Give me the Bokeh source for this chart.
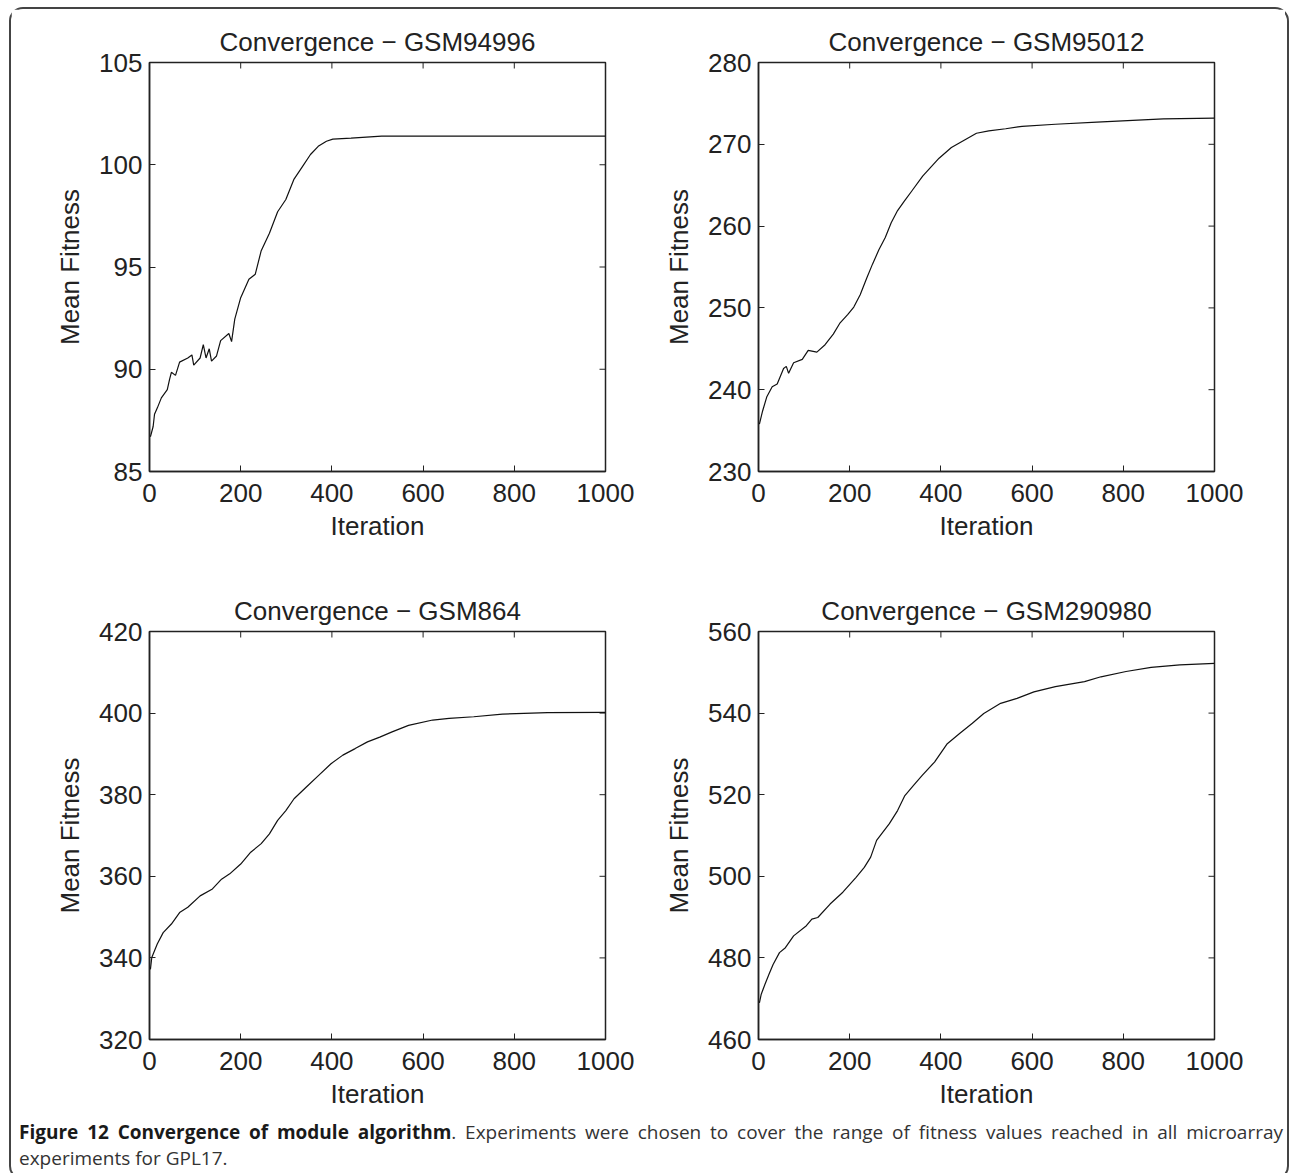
import math
from bokeh.plotting import figure
from bokeh.layouts import column, row
from bokeh.models import Range1d, FixedTicker, Div
from bokeh.embed import file_html
from bokeh.resources import INLINE

# ---------------- data ----------------
x_tick_values = [0, 200, 400, 600, 800, 1000]

titles = ["Convergence \u2212 GSM94996", "Convergence \u2212 GSM95012",
          "Convergence \u2212 GSM864", "Convergence \u2212 GSM290980"]

iter_gsm94996 = [2, 8, 11, 17, 26, 39, 44, 48, 57, 66, 84, 93, 97, 111, 118, 124, 131, 136, 147,
                 156, 174, 180, 187, 200, 218, 232, 245, 263, 281, 299, 317, 335, 353, 370, 388,
                 402, 442, 509, 1000]
fit_gsm94996 = [86.7, 87.2, 87.8, 88.1, 88.6, 89.0, 89.5, 89.85, 89.7, 90.35, 90.55, 90.7, 90.2,
                90.55, 91.2, 90.55, 91.0, 90.4, 90.65, 91.4, 91.75, 91.35, 92.45, 93.5, 94.4, 94.65,
                95.8, 96.65, 97.7, 98.3, 99.3, 99.9, 100.5, 100.9, 101.15, 101.25, 101.3, 101.4, 101.4]

iter_gsm95012 = [2, 9, 18, 30, 41, 55, 61, 66, 77, 96, 109, 128, 146, 164, 178, 196, 209, 223, 237,
                 250, 264, 278, 291, 305, 319, 337, 360, 378, 396, 423, 451, 478, 505, 542, 578,
                 651, 742, 888, 1000]
fit_gsm95012 = [235.8, 237.4, 239.1, 240.35, 240.7, 242.6, 242.85, 242.0, 243.3, 243.7, 244.8,
                244.6, 245.5, 246.8, 248.1, 249.2, 250.1, 251.6, 253.6, 255.35, 257.1, 258.6, 260.4,
                261.9, 263.0, 264.35, 266.1, 267.2, 268.3, 269.6, 270.5, 271.35, 271.65, 271.9,
                272.2, 272.45, 272.7, 273.1, 273.2]

iter_gsm864 = [2, 5, 17, 30, 48, 66, 84, 111, 138, 158, 176, 200, 222, 245, 263, 281, 299, 317, 344,
               371, 398, 424, 451, 478, 505, 532, 568, 621, 657, 711, 774, 873, 1000]
fit_gsm864 = [337.2, 340.1, 343.4, 346.2, 348.3, 351.1, 352.4, 355.2, 356.9, 359.3, 360.6, 363.0,
              365.9, 368.0, 370.4, 373.7, 376.1, 379.0, 381.9, 384.75, 387.6, 389.7, 391.3, 392.95,
              394.1, 395.4, 397.0, 398.3, 398.7, 399.1, 399.75, 400.1, 400.2]

iter_gsm290980 = [2, 6, 14, 23, 32, 46, 59, 77, 105, 117, 130, 157, 185, 214, 232, 246, 259, 287,
                  305, 321, 340, 359, 386, 414, 441, 469, 494, 531, 567, 604, 651, 715, 751, 806,
                  861, 924, 1000]
fit_gsm290980 = [469.0, 471.1, 473.5, 476.0, 478.4, 481.3, 482.5, 485.4, 487.9, 489.5, 489.9, 493.2,
                 496.1, 499.75, 502.2, 504.7, 508.8, 512.9, 516.1, 519.8, 522.3, 524.75, 528.0,
                 532.5, 535.0, 537.5, 539.9, 542.4, 543.6, 545.2, 546.5, 547.7, 548.9, 550.2,
                 551.2, 551.8, 552.2]

y_ranges = [(85, 105), (230, 280), (320, 420), (460, 560)]
y_tick_values = [[85, 90, 95, 100, 105], [230, 240, 250, 260, 270, 280],
                 [320, 340, 360, 380, 400, 420], [460, 480, 500, 520, 540, 560]]

caption_bold = "Figure 12 Convergence of module algorithm"
caption_line1_rest = (". Experiments were chosen to cover the range of fitness values reached in all "
                      "microarray")
caption_line2 = "experiments for GPL17."

# ---------------- styling ----------------
FONT = "Liberation Sans"
INK = "#222222"
FS = "26px"
TICK = 6


def make(idx, xs, ys, mbl, mbr, mbt, mbb, fh):
    x0, x1 = 0, 1000
    y0, y1 = y_ranges[idx]
    p = figure(output_backend="svg", toolbar_location=None,
               frame_width=456, frame_height=fh,
               min_border_left=mbl, min_border_right=mbr,
               min_border_top=mbt, min_border_bottom=mbb,
               x_range=Range1d(x0, x1), y_range=Range1d(y0, y1),
               title=titles[idx], x_axis_label="Iteration", y_axis_label="Mean Fitness")
    p.background_fill_color = "white"
    p.border_fill_color = "white"
    p.outline_line_color = INK
    p.outline_line_width = 1.5
    p.grid.visible = False

    p.title.text_font = FONT
    p.title.text_font_size = FS
    p.title.text_font_style = "normal"
    p.title.text_color = INK
    p.title.align = "center"
    p.title.standoff = 12

    for ax in (p.xaxis[0], p.yaxis[0]):
        ax.axis_line_color = INK
        ax.axis_line_width = 1.5
        ax.major_tick_in = TICK
        ax.major_tick_out = 0
        ax.major_tick_line_color = INK
        ax.minor_tick_line_color = None
        ax.major_label_text_font = FONT
        ax.major_label_text_font_size = FS
        ax.major_label_text_color = INK
        ax.axis_label_text_font = FONT
        ax.axis_label_text_font_size = FS
        ax.axis_label_text_font_style = "normal"
        ax.axis_label_text_color = INK
    p.xaxis[0].ticker = FixedTicker(ticks=x_tick_values)
    p.yaxis[0].ticker = FixedTicker(ticks=y_tick_values[idx])
    p.xaxis[0].major_label_standoff = 12
    p.xaxis[0].axis_label_standoff = 6
    p.yaxis[0].major_label_standoff = 7
    p.yaxis[0].axis_label_standoff = 11

    # mirrored inward ticks on the top and right frame edges (MATLAB style)
    p.ray(x=x_tick_values, y=[y1] * len(x_tick_values), length=TICK, length_units="screen",
          angle=-math.pi / 2, line_color=INK, line_width=1)
    p.ray(x=[x1] * len(y_tick_values[idx]), y=y_tick_values[idx], length=TICK,
          length_units="screen", angle=math.pi, line_color=INK, line_width=1)

    p.line(xs, ys, line_color="#111111", line_width=1.2)
    return p


p1 = make(0, iter_gsm94996, fit_gsm94996, 138, 30, 53, 95, 409)
p2 = make(1, iter_gsm95012, fit_gsm95012, 123, 71, 53, 95, 409)
p3 = make(2, iter_gsm864, fit_gsm864, 138, 30, 65, 75, 408)
p4 = make(3, iter_gsm290980, fit_gsm290980, 123, 71, 65, 75, 408)

caption_html = (
    "<div style='display:block;width:1264px;text-align:justify;text-align-last:justify;"
    "white-space:normal'>"
    "<b style='color:#1a1a1a'>" + caption_bold + "</b><span>" + caption_line1_rest + "</span></div>"
    "<div style='display:block;width:1264px;text-align:left'>" + caption_line2 + "</div>"
)
caption = Div(text=caption_html, width=1266, height=54,
              styles={"font-family": "'Open Sans'", "font-size": "19px", "color": "#333333",
                      "line-height": "26px", "padding-left": "3px"})

layout = column(row(p1, p2), row(p3, p4), caption,
                styles={"border": "2px solid #444444", "border-radius": "14px",
                        "background-color": "white"},
                margin=(7, 3, 3, 9))

open("out.html", "w").write(file_html(layout, INLINE))
